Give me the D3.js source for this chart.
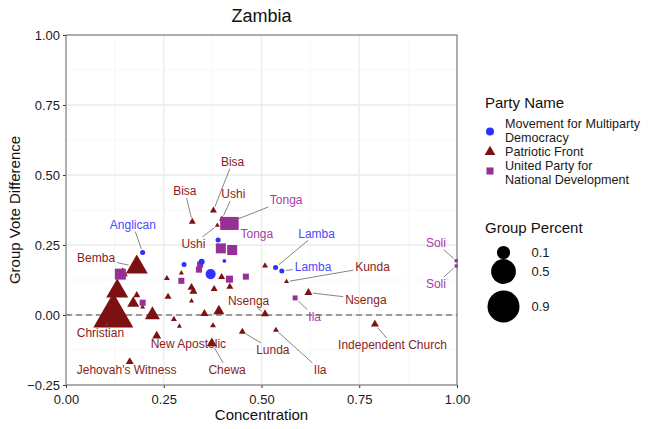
<!DOCTYPE html>
<html>
<head>
<meta charset="utf-8">
<script src="https://cdn.jsdelivr.net/npm/d3@7"></script>
<style>
  body { margin: 0; background: #fff; }
  text { font-family: "Liberation Sans", Arial, sans-serif; }
</style>
</head>
<body>
<svg id="chart" width="657" height="429"></svg>
<script>
// Movement for Multiparty Democracy
var mmdConc = [0.196, 0.302, 0.347, 0.370, 0.405, 0.389, 0.536, 0.552];
var mmdDiff = [0.223, 0.180, 0.190, 0.146, 0.193, 0.268, 0.170, 0.157];
var mmdPct  = [0.002, 0.002, 0.006, 0.045, 0.000, 0.002, 0.002, 0.002];
var mmdName = ["Anglican", "", "", "", "", "", "Lamba", "Lamba"];

// Patriotic Front
var pfConc = [0.377, 0.323, 0.399, 0.387, 0.181, 0.145, 0.131, 0.121, 0.181, 0.172, 0.196, 0.221,
              0.258, 0.261, 0.276, 0.290, 0.295, 0.321, 0.326, 0.321, 0.354, 0.379, 0.391, 0.398,
              0.419, 0.376, 0.232, 0.373, 0.163, 0.451, 0.509, 0.564, 0.620, 0.509, 0.537, 0.790];
var pfDiff = [0.373, 0.333, 0.343, 0.320, 0.171, 0.149, 0.085, -0.003, 0.071, 0.042, 0.028, 0.000,
              0.131, 0.065, -0.015, -0.040, 0.150, 0.098, 0.084, 0.050, 0.005, 0.093, 0.014, 0.136,
              0.101, -0.038, -0.075, -0.101, -0.167, -0.060, 0.176, 0.119, 0.080, 0.004, -0.054, -0.033];
var pfPct  = [0.0025, 0.0025, 0.0006, 0.0, 0.18, 0.016, 0.18, 0.76, 0.0025, 0.031, 0.0, 0.062,
              0.0006, 0.0025, 0.0006, 0.0, 0.0, 0.0056, 0.0056, 0.0, 0.0056, 0.0025, 0.022, 0.0025,
              0.0025, 0.0006, 0.010, 0.016, 0.0056, 0.0025, 0.0006, 0.0, 0.0056, 0.0056, 0.0006, 0.0056];
var pfName = ["Bisa", "Bisa", "Ushi", "Ushi", "Bemba", "", "", "Christian", "", "", "", "",
              "", "", "", "", "", "", "", "", "", "", "", "",
              "", "", "New Apostolic", "Chewa", "Jehovah's Witness", "Lunda", "", "Kunda", "Nsenga", "Nsenga", "Ila", "Independent Church"];

// United Party for National Development
var upndConc = [0.139, 0.411, 0.425, 0.396, 0.425, 0.418, 0.460, 0.295, 0.343, 0.340, 0.586, 0.196, 0.998, 0.998];
var upndDiff = [0.146, 0.327, 0.327, 0.238, 0.232, 0.128, 0.137, 0.122, 0.180, 0.162, 0.061, 0.044, 0.194, 0.175];
var upndPct  = [0.085, 0.135, 0.135, 0.065, 0.065, 0.020, 0.011, 0.011, 0.011, 0.011, 0.004, 0.011, 0.0, 0.0];
var upndName = ["", "Tonga", "Tonga", "", "", "", "", "", "", "", "Ila", "", "Soli", "Soli"];

// label placement (party, point index, label centre in data units)
var labelSpots = [
  ["mmd", 0, 0.171, 0.323], ["mmd", 6, 0.641, 0.292], ["mmd", 7, 0.632, 0.172],
  ["pf", 0, 0.426, 0.548], ["pf", 1, 0.304, 0.443], ["pf", 2, 0.428, 0.432], ["pf", 3, 0.326, 0.254],
  ["pf", 4, 0.077, 0.205], ["pf", 7, 0.088, -0.064], ["pf", 26, 0.313, -0.101], ["pf", 27, 0.412, -0.196],
  ["pf", 28, 0.155, -0.196], ["pf", 29, 0.529, -0.125], ["pf", 31, 0.784, 0.172], ["pf", 32, 0.767, 0.056],
  ["pf", 33, 0.467, 0.050], ["pf", 34, 0.650, -0.196], ["pf", 35, 0.835, -0.107],
  ["upnd", 1, 0.563, 0.411], ["upnd", 2, 0.488, 0.292], ["upnd", 10, 0.636, -0.006],
  ["upnd", 12, 0.946, 0.258], ["upnd", 13, 0.946, 0.111]
];

var partyNames = ["Movement for Multiparty Democracy", "Patriotic Front", "United Party for National Development"];
var sizeBreaks = [0.1, 0.5, 0.9];
var xTicks = [0, 0.25, 0.5, 0.75, 1];
var yTicks = [-0.25, 0, 0.25, 0.5, 0.75, 1];

var parties = {
  mmd:  { conc: mmdConc,  diff: mmdDiff,  pct: mmdPct,  name: mmdName,  shape: d3.symbolCircle,   fill: "#2f2fff", text: "#4a4aff" },
  pf:   { conc: pfConc,   diff: pfDiff,   pct: pfPct,   name: pfName,   shape: d3.symbolTriangle, fill: "#7d1010", text: "#8a1d1d" },
  upnd: { conc: upndConc, diff: upndDiff, pct: upndPct, name: upndName, shape: d3.symbolSquare,   fill: "#962f96", text: "#a83aa8" }
};

var svg = d3.select("#chart");
svg.append("rect").attr("width", 657).attr("height", 429).attr("fill", "#fff");

var x = d3.scaleLinear().domain([0, 1]).range([66, 457]);
var y = d3.scaleLinear().domain([-0.25, 1]).range([385, 35]);
// point diameter, area-based like ggplot scale_size
var diam = d3.scaleSqrt().domain([0, 0.9]).range([3.7, 32]);
function area(v) { var d = diam(v); return Math.PI * d * d / 4; }

// grid
var grid = svg.append("g");
var xMinor = [0.125, 0.375, 0.625, 0.875];
var yMinor = [-0.125, 0.125, 0.375, 0.625, 0.875];
xMinor.forEach(function (v) {
  grid.append("line").attr("x1", x(v)).attr("x2", x(v)).attr("y1", 35).attr("y2", 385)
    .attr("stroke", "#f3f3f3").attr("stroke-width", 0.7);
});
yMinor.forEach(function (v) {
  grid.append("line").attr("y1", y(v)).attr("y2", y(v)).attr("x1", 66).attr("x2", 457)
    .attr("stroke", "#f3f3f3").attr("stroke-width", 0.7);
});
xTicks.forEach(function (v) {
  grid.append("line").attr("x1", x(v)).attr("x2", x(v)).attr("y1", 35).attr("y2", 385)
    .attr("stroke", "#ebebeb").attr("stroke-width", 1.3);
});
yTicks.forEach(function (v) {
  grid.append("line").attr("y1", y(v)).attr("y2", y(v)).attr("x1", 66).attr("x2", 457)
    .attr("stroke", "#ebebeb").attr("stroke-width", 1.3);
});

// zero reference line
svg.append("line")
  .attr("x1", 66).attr("x2", 457).attr("y1", y(0)).attr("y2", y(0))
  .attr("stroke", "#444").attr("stroke-width", 1.2).attr("stroke-dasharray", "6,4");

// axes
var xAxis = svg.append("g").attr("transform", "translate(0,385)")
  .call(d3.axisBottom(x).tickValues(xTicks).tickFormat(d3.format(".2f")).tickSize(3));
var yAxis = svg.append("g").attr("transform", "translate(66,0)")
  .call(d3.axisLeft(y).tickValues(yTicks).tickFormat(d3.format(".2f")).tickSize(3));
[xAxis, yAxis].forEach(function (a) {
  a.select(".domain").remove();
  a.selectAll(".tick line").attr("stroke", "#333");
  a.selectAll(".tick text").attr("fill", "#1a1a1a").style("font-size", "13px")
    .style("font-family", "'Liberation Sans', Arial, sans-serif");
});
xAxis.selectAll(".tick text").attr("dy", "0.98em");

// panel border
svg.append("rect").attr("x", 66).attr("y", 35).attr("width", 391).attr("height", 350)
  .attr("fill", "none").attr("stroke", "#777").attr("stroke-width", 1.1);

// points
["pf", "upnd", "mmd"].forEach(function (key) {
  var p = parties[key];
  var pts = p.conc.map(function (c, i) { return { c: c, d: p.diff[i], v: p.pct[i] }; });
  svg.append("g").selectAll("path").data(pts).enter().append("path")
    .attr("transform", function (d) { return "translate(" + x(d.c) + "," + y(d.d) + ")"; })
    .attr("d", function (d) { return d3.symbol().type(p.shape).size(area(d.v))(); })
    .attr("fill", p.fill);
});

// labels with leader segments
var labelLayer = svg.append("g");
var segLayer = labelLayer.append("g");
labelSpots.forEach(function (s) {
  var p = parties[s[0]];
  var i = s[1];
  var px = x(p.conc[i]), py = y(p.diff[i]);
  var lx = x(s[2]), ly = y(s[3]);
  var t = labelLayer.append("text")
    .attr("x", lx).attr("y", ly + 4.3)
    .attr("text-anchor", "middle")
    .attr("fill", p.text)
    .style("font-size", "12px")
    .text(p.name[i]);
  var w = t.node().getComputedTextLength() / 2 + 2, h = 7;
  var dx = px - lx, dy = py - ly;
  var tEdge = Math.min(dx !== 0 ? w / Math.abs(dx) : Infinity, dy !== 0 ? h / Math.abs(dy) : Infinity);
  if (tEdge >= 1) return;
  var sx = lx + dx * tEdge, sy = ly + dy * tEdge;
  var len = Math.sqrt(dx * dx + dy * dy);
  var gap = Math.min(diam(p.pct[i]) / 2 + 1.5, 8.5);
  var ex = px - dx / len * gap, ey = py - dy / len * gap;
  var segLen = Math.sqrt((ex - sx) * (ex - sx) + (ey - sy) * (ey - sy));
  if (segLen < 4 || (ex - sx) * dx + (ey - sy) * dy < 0) return;
  segLayer.append("line")
    .attr("x1", sx).attr("y1", sy).attr("x2", ex).attr("y2", ey)
    .attr("stroke", "#666").attr("stroke-width", 0.8);
});

// title and axis titles
svg.append("text").attr("x", 261.5).attr("y", 22).attr("text-anchor", "middle")
  .style("font-size", "18px").attr("fill", "#111").text("Zambia");
svg.append("text").attr("x", 261.5).attr("y", 419.5).attr("text-anchor", "middle")
  .style("font-size", "15px").attr("fill", "#111").text("Concentration");
svg.append("text").attr("transform", "translate(20,210) rotate(-90)").attr("text-anchor", "middle")
  .style("font-size", "15px").attr("fill", "#111").text("Group Vote Difference");

// legend: party
var leg = svg.append("g");
leg.append("text").attr("x", 485).attr("y", 108).style("font-size", "15px").attr("fill", "#111").text("Party Name");
var legRows = [
  { key: "mmd", cy: 131.5, lines: ["Movement for Multiparty", "Democracy"], ty: 128 },
  { key: "pf", cy: 152, lines: ["Patriotic Front"], ty: 156 },
  { key: "upnd", cy: 171, lines: ["United Party for", "National Development"], ty: 169.5 }
];
legRows.forEach(function (r) {
  var p = parties[r.key];
  leg.append("path")
    .attr("transform", "translate(490," + r.cy + ")")
    .attr("d", d3.symbol().type(p.shape).size(Math.PI * 16)())
    .attr("fill", p.fill);
  r.lines.forEach(function (ln, j) {
    leg.append("text").attr("x", 505).attr("y", r.ty + j * 14)
      .style("font-size", "12.6px").attr("fill", "#1a1a1a").text(ln);
  });
});

// legend: size
leg.append("text").attr("x", 485).attr("y", 233).style("font-size", "15px").attr("fill", "#111").text("Group Percent");
var sizeY = [252.5, 271.5, 306.5];
sizeBreaks.forEach(function (b, i) {
  leg.append("circle").attr("cx", 503.5).attr("cy", sizeY[i]).attr("r", diam(b) / 2).attr("fill", "#000");
  leg.append("text").attr("x", 531.5).attr("y", sizeY[i] + 4.5)
    .style("font-size", "13px").attr("fill", "#1a1a1a").text(b);
});
</script>
</body>
</html>
